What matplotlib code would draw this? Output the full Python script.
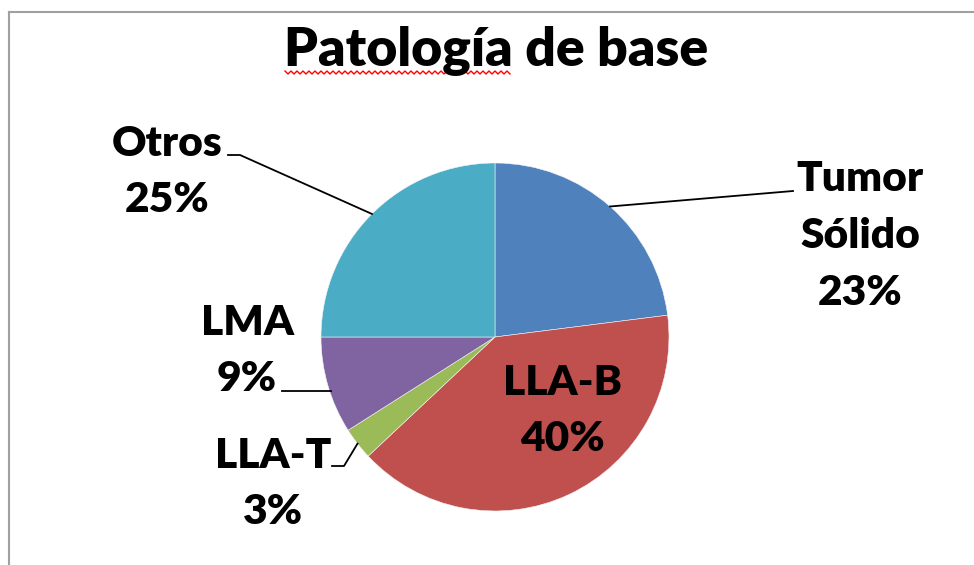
import numpy as np
import matplotlib
matplotlib.use("Agg")
import matplotlib.pyplot as plt
from matplotlib.lines import Line2D

categories = ["Tumor\nSólido", "LLA-B", "LLA-T", "LMA", "Otros"]
values = [23, 40, 3, 9, 25]
colors = ["#4F81BD", "#C0504D", "#9BBB59", "#8064A2", "#4BACC6"]
title = "Patología de base"

W, H = 974, 565
fig = plt.figure(figsize=(W / 100, H / 100), dpi=100)
fig.patch.set_facecolor("white")

def fx(x):
    return x / W

def fy(y):
    return 1 - y / H

FONT = "Lato"

# chart frame (extends past the right/bottom edges)
fig.add_artist(Line2D([fx(9), fx(W + 5)], [fy(12), fy(12)], color="#A0A0A0", lw=1.5))
fig.add_artist(Line2D([fx(9), fx(9)], [fy(12), fy(H + 5)], color="#A0A0A0", lw=1.5))

# pie axes
cx, cy, r = 495, 337, 174
ax = fig.add_axes([fx(cx - r), fy(cy + r), 2 * r / W, 2 * r / H])
wedges, _ = ax.pie(values, colors=colors, startangle=90, counterclock=False, radius=1,
                   wedgeprops=dict(linewidth=0.4, edgecolor="#f4f4f4"))
ax.set_xlim(-1, 1)
ax.set_ylim(-1, 1)
ax.set_aspect("equal")
ax.axis("off")

# title
fig.text(fx(496), fy(51), title, ha="center", va="center", fontsize=38.5,
         fontweight="heavy", family=FONT)
# spell-check squiggle under "Patología"
xs = np.arange(285, 511, 3.0)
ys = np.where((np.arange(len(xs)) % 2) == 0, 71, 74)
fig.add_artist(Line2D(fx(xs), fy(ys), color="#FF0000", lw=1.0))

tot = float(sum(values))
def anchor(i):
    start = sum(values[:i])
    mid = (start + values[i] / 2) / tot
    ang = np.deg2rad(90 - 360 * mid)
    return np.cos(ang), np.sin(ang)

def data_to_px(x, y):
    return cx + x * r, cy - y * r

lab_fs = 30.5
def label(txt, x, y):
    fig.text(fx(x), fy(y), txt, ha="center", va="center", fontsize=lab_fs,
             fontweight="heavy", family=FONT, linespacing=1.6)

def leader(points):
    px = [p[0] for p in points]
    py = [p[1] for p in points]
    fig.add_artist(Line2D(fx(np.array(px)), fy(np.array(py)), color="black", lw=1.3))

pct = [f"{v}%" for v in values]

# Tumor Sólido
a = data_to_px(*anchor(0))
label(categories[0] + "\n" + pct[0], 860, 236)
leader([a, (793, 191)])

# LLA-B (inside)
label(categories[1] + "\n" + pct[1], 562, 411)

# LLA-T
a = data_to_px(*anchor(2))
label(categories[2] + "\n" + pct[2], 273, 484)
leader([a, (344, 466), (332, 466)])

# LMA
a = data_to_px(*anchor(3))
label(categories[3] + "\n" + pct[3], 247, 351)
leader([(a[0] + 3, 391), (282, 391)])

# Otros
a = data_to_px(*anchor(4))
label(categories[4] + "\n" + pct[4], 167, 172)
leader([a, (240, 155), (228, 155)])

fig.savefig("out.png", dpi=100, facecolor="white")
